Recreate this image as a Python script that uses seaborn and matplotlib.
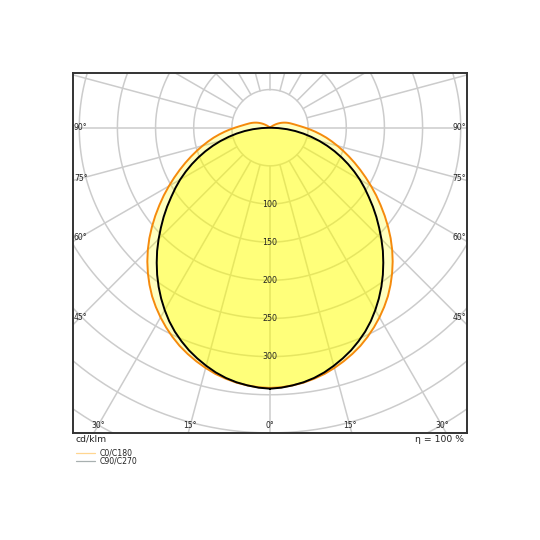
import numpy as np
import pandas as pd
import matplotlib
matplotlib.use("Agg")
import matplotlib.pyplot as plt
from matplotlib.lines import Line2D
import seaborn as sns

# Luminous intensity (cd/klm), gamma angle from nadir in 2.5 deg steps
gamma = [0, 2.5, 5, 7.5, 10, 12.5, 15, 17.5, 20, 22.5, 25, 27.5, 30, 32.5, 35, 37.5, 40, 42.5,
         45, 47.5, 50, 52.5, 55, 57.5, 60, 62.5, 65, 67.5, 70, 72.5, 75, 77.5, 80, 82.5, 85, 87.5,
         90, 92.5, 95, 97.5, 100, 102.5, 105, 107.5, 110, 112.5, 115, 117.5, 120, 122.5, 125,
         127.5, 130, 132.5, 135]
c0_c180 = [341, 340.5, 339, 337, 334, 330.5, 326, 321, 315.5, 309.5, 302.5, 295, 287, 278.5, 269.5, 259.5,
           249, 238, 226.5, 214.5, 202, 189.5, 177, 165, 153, 141.5, 130.5, 120, 110, 100.5, 91.5, 83,
           75, 67, 59.5, 52.5, 46, 40.5, 36, 32.5, 29.5, 27, 24.5, 22, 19.5, 17, 14.5, 12, 9.5, 7, 5,
           3, 1.5, 0.5, 0]
c90_c270 = [342, 341, 339, 336.5, 333, 328.5, 323, 317, 310.5, 303, 295, 286, 276, 265.5, 254.5, 243,
            231, 219, 206.5, 194, 182, 170, 158, 147, 136, 124.5, 113, 101.5, 90, 78.5, 67, 55.5,
            44.5, 33.5, 22.5, 11, 0, 0, 0, 0, 0, 0, 0, 0, 0, 0, 0, 0, 0, 0, 0,
            0, 0, 0, 0]

ring_values = [50, 100, 150, 200, 250, 300, 350, 400, 450, 500]
ring_labels = [100, 150, 200, 250, 300]
side_angles = [90, 75, 60, 45]
bottom_angles = [30, 15, 0]
efficiency = "η = 100 %"
unit = "cd/klm"
series_names = ["C0/C180", "C90/C270"]


def to_xy(angles, values):
    # full closed curve: right half (C0 / C90) then left half mirrored (C180 / C270)
    a = np.radians(np.array(angles, dtype=float))
    v = np.array(values, dtype=float)
    xr, yr = v * np.sin(a), -v * np.cos(a)
    x = np.concatenate([xr, -xr[::-1]])
    y = np.concatenate([yr, yr[::-1]])
    return pd.DataFrame({"x": x, "y": y})


df_c0 = to_xy(gamma, c0_c180)
df_c90 = to_xy(gamma, c90_c270)

sns.set_style("white")
plt.rcParams["font.family"] = ["DejaVu Sans"]

fig = plt.figure(figsize=(5.4, 5.4), dpi=100)
ax = fig.add_axes([72.7 / 540, 1 - 432.7 / 540, 394.6 / 540, 360 / 540])
xmax = 258.6
ax.set_xlim(-xmax, xmax)
ax.set_ylim(-399.7, 72.1)

grid_c = "#cccccc"
# rings
t = np.linspace(0, 2 * np.pi, 400)
for r in ring_values:
    ax.plot(r * np.cos(t), r * np.sin(t), color=grid_c, lw=1.1, zorder=1)
# spokes every 15 deg from the 50 ring outwards
for a in range(0, 360, 15):
    ar = np.radians(a)
    ax.plot([50 * np.sin(ar), 700 * np.sin(ar)], [-50 * np.cos(ar), -700 * np.cos(ar)],
            color=grid_c, lw=1.1, zorder=1)

# fills
ax.fill(df_c0["x"], df_c0["y"], color="#ffff00", alpha=0.25, lw=0, zorder=2)
ax.fill(df_c90["x"], df_c90["y"], color="#ffff00", alpha=0.36, lw=0, zorder=2)

# curves
sns.lineplot(data=df_c0, x="x", y="y", sort=False, estimator=None, color="#f58a0c",
             lw=1.4, ax=ax, zorder=3)
sns.lineplot(data=df_c90, x="x", y="y", sort=False, estimator=None, color="black",
             lw=1.4, ax=ax, zorder=4)

# ring labels
for r in ring_labels:
    ax.text(0, -r, str(r), ha="center", va="center", fontsize=5.7, color="#222222", zorder=5)

# angle labels on the box edges
xl = xmax - 10.5
for a in side_angles:
    yy = 0 if a == 90 else -xl / np.tan(np.radians(a))
    ax.text(-xl, yy, f"{a}°", ha="center", va="center", fontsize=5.5, color="#222222", zorder=5)
    ax.text(xl, yy, f"{a}°", ha="center", va="center", fontsize=5.5, color="#222222", zorder=5)
yb = -390.6
for a in bottom_angles:
    xx = -yb * np.tan(np.radians(a))
    ax.text(-xx, yb, f"{a}°", ha="center", va="center", fontsize=5.5, color="#222222", zorder=5)
    if a != 0:
        ax.text(xx, yb, f"{a}°", ha="center", va="center", fontsize=5.5, color="#222222", zorder=5)

ax.set_xticks([])
ax.set_yticks([])
ax.set_xlabel("")
ax.set_ylabel("")
for s in ax.spines.values():
    s.set_visible(True)
    s.set_color("#333333")
    s.set_linewidth(1.4)
if ax.get_legend() is not None:
    ax.get_legend().remove()

# texts below the box
fig.text(76 / 540, 1 - 439.5 / 540, unit, ha="left", va="center", fontsize=6.7, color="#222222")
fig.text(464 / 540, 1 - 439.5 / 540, efficiency, ha="right", va="center", fontsize=6.7, color="#222222")

legend_cols = ["#ffd690", "#a8b0b0"]
for i, (name, col) in enumerate(zip(series_names, legend_cols)):
    yy = 1 - (452.7 + 8 * i) / 540
    fig.add_artist(Line2D([76 / 540, 95 / 540], [yy, yy], color=col, lw=0.9))
    fig.text(100 / 540, yy, name, ha="left", va="center", fontsize=5.6, color="#222222")

fig.savefig("out.png", dpi=100)
